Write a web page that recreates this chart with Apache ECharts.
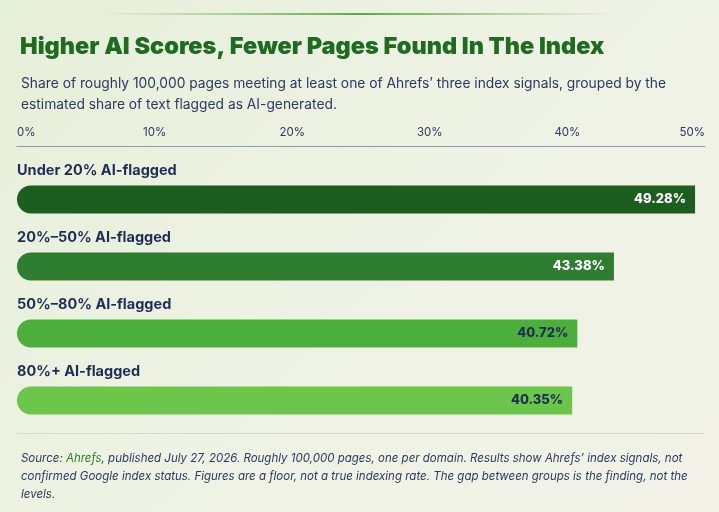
<!DOCTYPE html>
<html><head><meta charset="utf-8">
<script src="https://cdn.jsdelivr.net/npm/echarts@6/dist/echarts.min.js"></script>
<style>html,body{margin:0;padding:0;}#c{width:719px;height:512px;background:linear-gradient(135deg,#e6efd9 0%,#eef2e4 50%,#f2f2e8 100%);}</style>
</head><body><div id="c"></div>
<script>
const categories = ['Under 20% AI-flagged','20%–50% AI-flagged','50%–80% AI-flagged','80%+ AI-flagged'];
const values = [49.28, 43.38, 40.72, 40.35];
const barColors = ['#1b5e1f','#2f7d31','#4caf3b','#6bc64b'];
const labelColors = ['#ffffff','#ffffff','#1e2d55','#1e2d55'];
const tickValues = [0,10,20,30,40,50];

const chart = echarts.init(document.getElementById('c'));
chart.setOption({
  animation:false,
  title:[
    {text:'Higher AI Scores, Fewer Pages Found In The Index',left:15,top:30,
     textStyle:{fontFamily:'Inter',fontSize:23.5,fontWeight:900,color:'#1f6b21'}},
    {text:'Share of roughly 100,000 pages meeting at least one of Ahrefs\u2019 three index signals, grouped by the\nestimated share of text flagged as AI-generated.',left:16,top:68,
     textStyle:{fontFamily:'Inter',fontSize:13.8,fontWeight:400,color:'#2b3a5e',lineHeight:21}},
    {text:'Source: {g|Ahrefs}, published July 27, 2026. Roughly 100,000 pages, one per domain. Results show Ahrefs\u2019 index signals, not\nconfirmed Google index status. Figures are a floor, not a true indexing rate. The gap between groups is the finding, not the\nlevels.',
     left:16,top:445,
     textStyle:{fontFamily:'Inter',fontSize:11.5,fontStyle:'italic',fontWeight:400,color:'#2b3a5e',lineHeight:18,
       rich:{g:{fontFamily:'Inter',fontSize:11.5,fontStyle:'italic',color:'#2f7d31'}}}}
  ],
  graphic:[
    {type:'rect',shape:{x:100,y:13,width:520,height:2},style:{fill:new echarts.graphic.LinearGradient(0,0,1,0,[{offset:0,color:'rgba(120,180,90,0)'},{offset:0.5,color:'#5aae3c'},{offset:1,color:'rgba(120,180,90,0)'}])}},
    {type:'rect',shape:{x:17,y:433,width:688,height:1},style:{fill:'#d6dbcf'}}
  ],
  grid:{left:17,right:14,top:166,height:268,containLabel:false},
  xAxis:{type:'value',position:'top',min:0,max:50,interval:10,offset:20,
    axisLine:{show:true,lineStyle:{color:'#8e9bb5',width:1}},axisTick:{show:false},splitLine:{show:false},
    axisLabel:{formatter:v=>tickValues.includes(v)?v+'%':'',fontFamily:'Inter',fontSize:11.5,color:'#2b3a5e',margin:7,
      alignMinLabel:'left',alignMaxLabel:'right'}},
  yAxis:{type:'category',data:categories,inverse:true,
    axisLine:{show:false},axisTick:{show:false},axisLabel:{show:false}},
  series:[
   {type:'bar',barWidth:28,data:values.map((v,i)=>({value:v,
      itemStyle:{color:barColors[i],borderRadius:[14,0,0,14]},
      label:{color:labelColors[i]}})),
    label:{show:true,position:'insideRight',distance:9,formatter:p=>p.value.toFixed(2)+'%',
      fontFamily:'Inter',fontSize:13,fontWeight:800}},
   {type:'bar',barWidth:28,barGap:'-100%',data:values,silent:true,
    itemStyle:{color:'rgba(0,0,0,0)'},
    label:{show:true,position:[0,-15],align:'left',verticalAlign:'middle',
      formatter:p=>categories[p.dataIndex],
      fontFamily:'Inter',fontSize:14.5,fontWeight:700,color:'#1e2d55'}}
  ]
});
</script></body></html>
